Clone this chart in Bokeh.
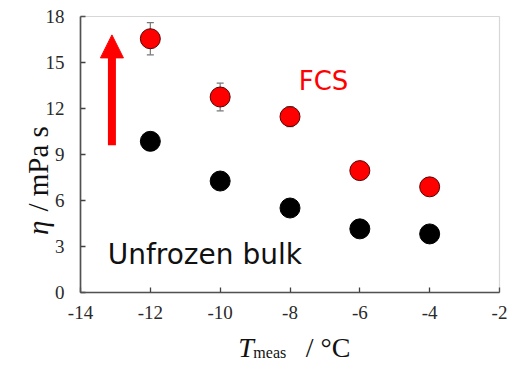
import math
from bokeh.plotting import figure
from bokeh.models import (ColumnDataSource, Range1d, FixedTicker, Whisker, TeeHead,
                          Label, Arrow, NormalHead, BoxAnnotation)
from bokeh.embed import file_html
from bokeh.resources import INLINE

# ---- data ----
temps = [-12, -10, -8, -6, -4]
eta_fcs = [16.55, 12.75, 11.47, 7.95, 6.89]
eta_fcs_err = [1.05, 0.9, 0.65, 0.3, 0.3]
eta_bulk = [9.86, 7.27, 5.51, 4.15, 3.82]
x_ticks = [-14, -12, -10, -8, -6, -4, -2]
x_tick_labels = ["-14", "-12", "-10", "-8", "-6", "-4", "-2"]
y_ticks = [0, 3, 6, 9, 12, 15, 18]
y_tick_labels = ["0", "3", "6", "9", "12", "15", "18"]
label_fcs = "FCS"
label_bulk = "Unfrozen bulk"

# ---- layout (pixels) ----
W, H = 507, 358
FL, FR, FT, FB = 80, 499, 16, 292          # axes box inside the canvas
x0, x1, y0, y1 = -14, -2, 0, 18
kx = (FR - FL) / (x1 - x0)
ky = (FB - FT) / (y1 - y0)
xr = Range1d(x0 - FL / kx, x1 + (W - FR) / kx)
yr = Range1d(y0 - (H - FB) / ky, y1 + FT / ky)

def px_y(py):  # canvas pixel row -> data y
    return y0 - (py - FB) / ky

p = figure(width=W, height=H, output_backend="svg", toolbar_location=None,
           x_range=xr, y_range=yr,
           min_border_left=0, min_border_right=0, min_border_top=0, min_border_bottom=0)
p.grid.visible = False
p.outline_line_color = None
p.background_fill_color = "white"
p.border_fill_color = "white"

p.add_layout(BoxAnnotation(left=x0, right=x1, bottom=y0, top=y1, fill_color=None,
                           line_color="#7a7a7a", line_width=1.2))

for ax, ticks, labs, bnds, loc in ((p.xaxis[0], x_ticks, x_tick_labels, (x0, x1), y0),
                                   (p.yaxis[0], y_ticks, y_tick_labels, (y0, y1), x0)):
    ax.fixed_location = loc
    ax.bounds = bnds
    ax.ticker = FixedTicker(ticks=ticks)
    ax.major_label_overrides = {t: s for t, s in zip(ticks, labs)}
    ax.minor_tick_line_color = None
    ax.major_tick_in = 5
    ax.major_tick_out = 0
    ax.axis_line_color = "#404040"
    ax.axis_line_width = 1.6
    ax.major_tick_line_color = "#404040"
    ax.major_tick_line_width = 1.3
    ax.major_label_text_font = "Liberation Serif"
    ax.major_label_text_font_size = "19px"
    ax.major_label_text_color = "#2a2a2a"
p.xaxis.major_label_standoff = 13
p.yaxis.major_label_standoff = 16

src_f = ColumnDataSource(dict(x=temps, y=eta_fcs,
                              lo=[a - b for a, b in zip(eta_fcs, eta_fcs_err)],
                              hi=[a + b for a, b in zip(eta_fcs, eta_fcs_err)]))
src_b = ColumnDataSource(dict(x=temps, y=eta_bulk))

wh = Whisker(source=src_f, base="x", lower="lo", upper="hi", dimension="height",
             line_color="#777777", line_width=1.2, level="underlay",
             upper_head=TeeHead(size=7, line_color="#777777", line_width=1.2),
             lower_head=TeeHead(size=7, line_color="#777777", line_width=1.2))
p.add_layout(wh)

p.scatter("x", "y", source=src_f, size=20, marker="circle",
          fill_color="#ff0000", line_color="#5a0000", line_width=1)
p.scatter("x", "y", source=src_b, size=20, marker="circle",
          fill_color="#000000", line_color="#000000", line_width=1)

# red arrow
p.add_layout(Arrow(x_start=-13.1, y_start=9.6, x_end=-13.1, y_end=16.8,
                   line_color="#ff0000", line_width=8,
                   end=NormalHead(size=23, fill_color="#ff0000", line_color="#ff0000")))

# in-plot texts
p.add_layout(Label(x=-7.75, y=13.78, text=label_fcs, text_font="DejaVu Sans",
                   text_font_size="26px", text_color="#ff0000",
                   text_baseline="alphabetic", text_align="left"))
p.add_layout(Label(x=-13.22, y=2.48, text=label_bulk, text_font="DejaVu Sans",
                   text_font_size="28px", text_color="#111111",
                   text_baseline="alphabetic", text_align="left"))

# axis titles
serif = "Liberation Serif"
p.add_layout(Label(x=-9.48, y=px_y(347), text="T",
                   text_font=serif, text_font_style="italic", text_font_size="28px",
                   text_color="#111111", text_baseline="alphabetic"))
p.add_layout(Label(x=-9.05, y=px_y(352), text="meas",
                   text_font=serif, text_font_size="16px",
                   text_color="#111111", text_baseline="alphabetic"))
p.add_layout(Label(x=-7.55, y=px_y(347), text="/ °C",
                   text_font=serif, text_font_size="28px",
                   text_color="#111111", text_baseline="alphabetic"))
p.add_layout(Label(x=-15.22, y=3.75, text="η",
                   angle=math.pi / 2, text_font=serif, text_font_style="italic",
                   text_font_size="29px", text_color="#111111",
                   text_baseline="alphabetic", text_align="left"))
p.add_layout(Label(x=-15.22, y=5.28, text="/ mPa s",
                   angle=math.pi / 2, text_font=serif,
                   text_font_size="29px", text_color="#111111",
                   text_baseline="alphabetic", text_align="left"))

open("out.html", "w").write(file_html(p, INLINE))
